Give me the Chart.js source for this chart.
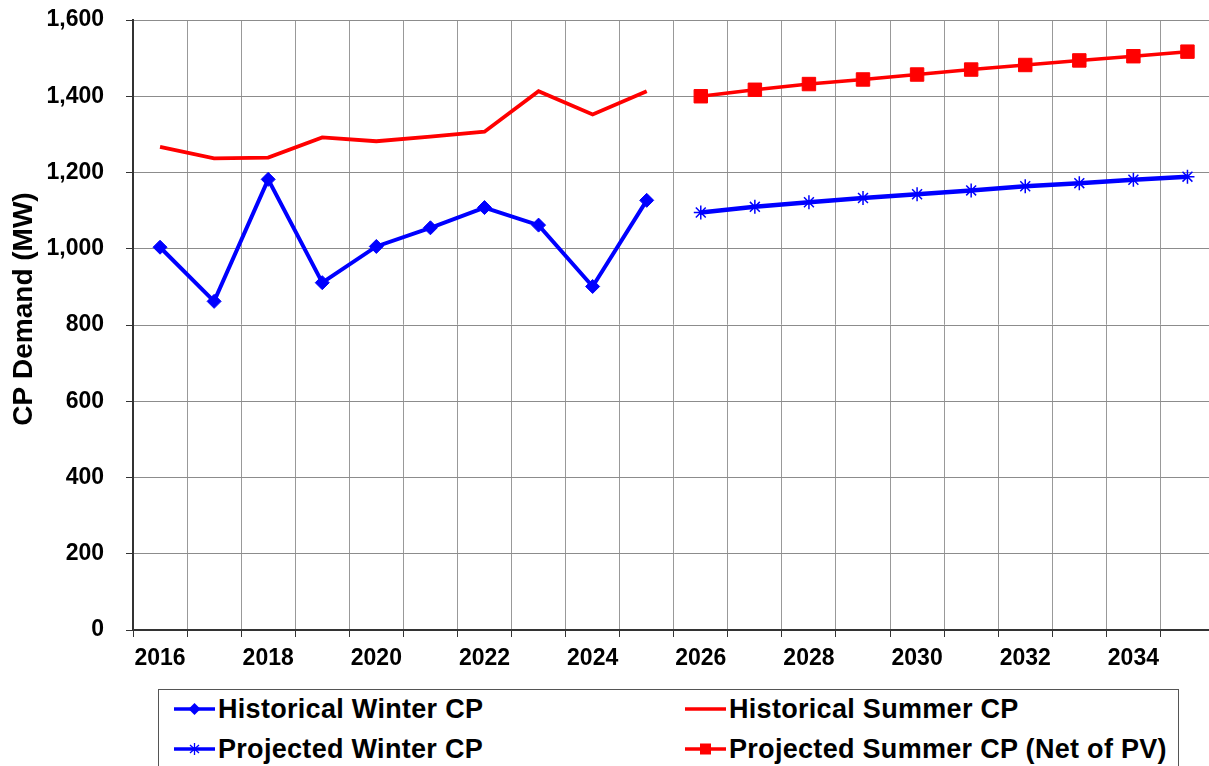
<!DOCTYPE html>
<html><head><meta charset="utf-8">
<script src="https://cdn.jsdelivr.net/npm/chart.js@4.4.0/dist/chart.umd.min.js"></script>
<style>
html,body{margin:0;padding:0;background:#fff;overflow:hidden;width:1209px;height:766px;}
#wrap{position:absolute;left:0;top:0;width:1225px;height:680px;}
#legend{position:absolute;left:158px;top:689px;width:1021px;height:100px;border:1px solid #555;box-sizing:border-box;font:bold 27px "Liberation Sans",Arial,sans-serif;letter-spacing:0.3px;color:#000;}
.item{position:absolute;height:30px;display:flex;align-items:center;white-space:nowrap;}
.item svg{margin-right:3px;}
</style></head>
<body>
<div id="wrap"><canvas id="c" width="1225" height="680" style="width:1225px;height:680px"></canvas></div>
<div id="legend"></div>
<script>
const FONT = '"Liberation Sans", Arial, sans-serif';
const yAxisTitle = 'CP Demand (MW)';
const categories = ['2016','2017','2018','2019','2020','2021','2022','2023','2024','2025',
                    '2026','2027','2028','2029','2030','2031','2032','2033','2034','2035'];
const shownTickLabels = ['2016','2018','2020','2022','2024','2026','2028','2030','2032','2034'];
const yTicks = [0,200,400,600,800,1000,1200,1400,1600];
const historicalWinter = [1004, 862, 1182, 911, 1006, 1055, 1108, 1062, 901, 1127,
                          null,null,null,null,null,null,null,null,null,null];
const historicalSummer = [1267, 1237, 1239, 1292, 1282, 1294, 1307, 1413, 1352, 1413,
                          null,null,null,null,null,null,null,null,null,null];
const projectedWinter = [null,null,null,null,null,null,null,null,null,null,
                         1095, 1110, 1122, 1133, 1143, 1153, 1164, 1172, 1181, 1189];
const projectedSummer = [null,null,null,null,null,null,null,null,null,null,
                         1400, 1417, 1432, 1444, 1457, 1470, 1482, 1494, 1505, 1517];

const BLUE = '#0000FF', RED = '#FF0000';
const datasets = [
  {label:'Historical Winter CP', data:historicalWinter, borderColor:BLUE, backgroundColor:BLUE,
   borderWidth:4, pointStyle:'rectRot', pointRadius:7, pointBorderWidth:1, legendMarker:'diamond'},
  {label:'Historical Summer CP', data:historicalSummer, borderColor:RED, backgroundColor:RED,
   borderWidth:3.8, pointRadius:0, legendMarker:'none'},
  {label:'Projected Winter CP', data:projectedWinter, borderColor:BLUE, backgroundColor:BLUE,
   borderWidth:4.5, pointStyle:'star', pointRadius:7, pointBorderWidth:1.5, legendMarker:'star'},
  {label:'Projected Summer CP (Net of PV)', data:projectedSummer, borderColor:RED, backgroundColor:RED,
   borderWidth:3.5, pointStyle:'rect', pointRadius:9.5, pointBorderWidth:1, legendMarker:'square'}
];
datasets.forEach(d => { d.fill = false; d.tension = 0; d.spanGaps = false; });

const yTitlePlugin = {
  id:'yTitle',
  afterDraw(chart){
    const ctx = chart.ctx;
    ctx.save();
    ctx.translate(24, 309);
    ctx.rotate(-Math.PI/2);
    ctx.textAlign = 'center';
    ctx.textBaseline = 'middle';
    ctx.fillStyle = '#000';
    ctx.font = 'bold 28px ' + FONT;
    ctx.fillText(yAxisTitle, 0, 0);
    ctx.restore();
  }
};

const chart = new Chart(document.getElementById('c'), {
  type:'line',
  data:{labels:categories, datasets},
  plugins:[yTitlePlugin],
  options:{
    responsive:false, animation:false, devicePixelRatio:1,
    layout:{padding:{left:0,right:0,top:20,bottom:0}},
    plugins:{legend:{display:false}, tooltip:{enabled:false}},
    scales:{
      x:{
        type:'category', offset:true,
        grid:{offset:true, color:'#999999', lineWidth:1, tickLength:7, tickColor:'#333', drawTicks:true},
        border:{color:'#333', width:2},
        ticks:{autoSkip:false, maxRotation:0, minRotation:0, color:'#000', padding:8,
               font:{family:FONT, size:23, weight:'bold'},
               callback:function(v){ const l = this.getLabelForValue(v); return shownTickLabels.includes(l) ? l : ''; }},
        afterFit:s => { s.height = 50; s.paddingLeft = 0; s.paddingRight = 0; }
      },
      y:{
        min:0, max:1600,
        afterBuildTicks:s => { s.ticks = yTicks.map(v => ({value:v})); },
        grid:{color:'#8c8c8c', lineWidth:1, tickLength:7, tickColor:'#333'},
        border:{color:'#333', width:2},
        ticks:{color:'#000', padding:22, font:{family:FONT, size:23, weight:'bold'},
               callback:v => Number(v).toLocaleString('en-US')},
        title:{display:false, text:yAxisTitle},
        afterFit:s => { s.width = 133; s.paddingTop = 0; s.paddingBottom = 0; }
      }
    }
  }
});

// HTML legend built from the chart's datasets
function markerSvg(ds){
  const c = ds.borderColor;
  let m = '';
  if (ds.legendMarker === 'diamond') m = `<polygon points="20.5,4 26.5,10 20.5,16 14.5,10" fill="${c}"/>`;
  else if (ds.legendMarker === 'square') m = `<rect x="15" y="4.5" width="11" height="11" fill="${c}"/>`;
  else if (ds.legendMarker === 'star') m = `<g stroke="${c}" stroke-width="1.3"><line x1="20.5" y1="4" x2="20.5" y2="16"/><line x1="16" y1="6" x2="25" y2="14"/><line x1="25" y1="6" x2="16" y2="14"/></g>`;
  return `<svg width="41" height="20" viewBox="0 0 41 20"><line x1="0" y1="10" x2="41" y2="10" stroke="${c}" stroke-width="3.5"/>${m}</svg>`;
}
const legendPos = [{left:15, top:4}, {left:526, top:4}, {left:15, top:44}, {left:526, top:44}];
const leg = document.getElementById('legend');
chart.data.datasets.forEach((ds, i) => {
  const d = document.createElement('div');
  d.className = 'item';
  d.style.left = legendPos[i].left + 'px';
  d.style.top = legendPos[i].top + 'px';
  d.innerHTML = markerSvg(ds) + '<span>' + ds.label + '</span>';
  leg.appendChild(d);
});
</script>
</body></html>
